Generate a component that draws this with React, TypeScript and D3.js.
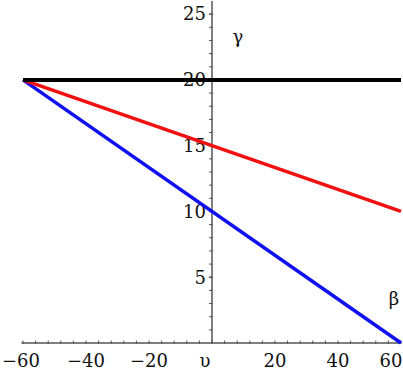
import React, { useEffect, useRef } from 'react';
import * as d3 from 'd3';

// line endpoints
const xEnds = [-60, 60];
const blackLine = [20, 20];
const redLine = [20, 10];
const blueLine = [20, 0];

const xTickValues = [-60, -40, -20, 0, 20, 40, 60];
const xTickLabels = ['\u221260', '\u221240', '\u221220', '\u03c5', '20', '40', '60'];
const yTickValues = [5, 10, 15, 20, 25];

const App: React.FC = () => {
  const svgRef = useRef<SVGSVGElement | null>(null);

  useEffect(() => {
    const width = 403;
    const height = 371;

    const x = d3.scaleLinear().domain([-60, 60]).range([23, 401]);
    const y = d3.scaleLinear().domain([0, 26]).range([343, 1]);

    const svg = d3.select(svgRef.current);
    svg.selectAll('*').remove();
    svg.attr('width', width).attr('height', height);

    const font = "'DejaVu Serif', 'Liberation Serif', serif";
    const axisColor = '#555';

    // axes
    svg
      .append('line')
      .attr('x1', x(-60.5))
      .attr('x2', x(60))
      .attr('y1', y(0))
      .attr('y2', y(0))
      .attr('stroke', axisColor)
      .attr('stroke-width', 1.5);
    svg
      .append('line')
      .attr('x1', x(0))
      .attr('x2', x(0))
      .attr('y1', y(0))
      .attr('y2', y(26))
      .attr('stroke', axisColor)
      .attr('stroke-width', 1.5);

    // minor ticks on x axis, every 4 units
    const xMinor = d3.range(-60, 61, 4);
    svg
      .append('g')
      .selectAll('line')
      .data(xMinor)
      .join('line')
      .attr('x1', (d) => x(d))
      .attr('x2', (d) => x(d))
      .attr('y1', y(0) - 2.5)
      .attr('y2', y(0) + 1)
      .attr('stroke', axisColor)
      .attr('stroke-width', 1);

    // minor ticks on y axis, every unit
    const yMinor = d3.range(1, 26, 1);
    svg
      .append('g')
      .selectAll('line')
      .data(yMinor)
      .join('line')
      .attr('x1', x(0) - 3)
      .attr('x2', x(0) + 1)
      .attr('y1', (d) => y(d))
      .attr('y2', (d) => y(d))
      .attr('stroke', axisColor)
      .attr('stroke-width', (d) => (d % 5 === 0 ? 1.5 : 1));

    const g = svg.append('g').attr('font-family', font).attr('font-size', 18).attr('fill', '#111');

    // x tick labels
    g.append('g')
      .selectAll('text')
      .data(xTickValues)
      .join('text')
      .attr('x', (d) => (d === 0 ? x(d) - 7 : d === 60 ? x(d) - 10 : d === -60 ? x(d) - 2 : x(d)))
      .attr('y', 367)
      .attr('text-anchor', 'middle')
      .text((d, i) => xTickLabels[i]);

    // y tick labels
    g.append('g')
      .selectAll('text')
      .data(yTickValues)
      .join('text')
      .attr('x', x(0) - 6)
      .attr('y', (d) => y(d))
      .attr('dy', '0.35em')
      .attr('text-anchor', 'end')
      .text((d) => String(d));

    // lines
    const series = [
      { values: blueLine, color: '#1010f0', w: 3.5 },
      { values: redLine, color: '#f01010', w: 3.5 },
      { values: blackLine, color: '#000', w: 4 },
    ];
    const line = d3
      .line<number>()
      .x((d, i) => x(xEnds[i]))
      .y((d) => y(d));
    svg
      .append('g')
      .selectAll('path')
      .data(series)
      .join('path')
      .attr('d', (d) => line(d.values))
      .attr('fill', 'none')
      .attr('stroke', (d) => d.color)
      .attr('stroke-width', (d) => d.w);

    // greek labels
    g.append('text')
      .attr('x', 238)
      .attr('y', 43)
      .attr('text-anchor', 'middle')
      .text('\u03b3');
    g.append('text')
      .attr('x', 394)
      .attr('y', 305)
      .attr('text-anchor', 'middle')
      .text('\u03b2');
  }, []);

  return (
    <svg
      ref={svgRef}
      style={{ position: 'absolute', left: 0, top: 0, display: 'block', background: '#fff' }}
    />
  );
};

export default App;
